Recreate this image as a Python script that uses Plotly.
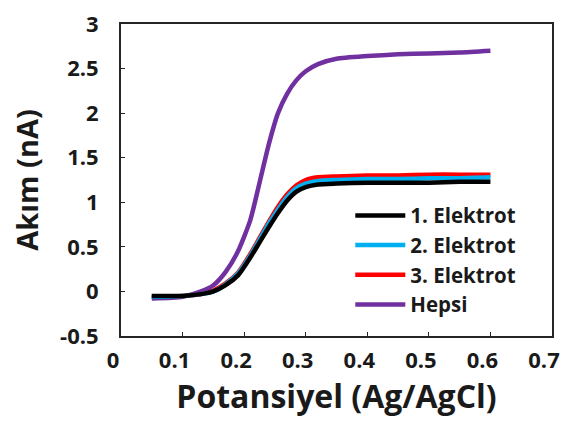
import plotly.graph_objects as go

x_vals = [0.05, 0.10, 0.13, 0.15, 0.17, 0.19, 0.21, 0.225, 0.24, 0.255, 0.27, 0.285, 0.30, 0.32, 0.35, 0.40, 0.45, 0.50, 0.55, 0.60]

elektrot1 = [-0.05, -0.05, -0.03, 0.00, 0.07, 0.18, 0.38, 0.55, 0.72, 0.88, 1.02, 1.12, 1.17, 1.20, 1.21, 1.22, 1.22, 1.22, 1.23, 1.23]
elektrot2 = [-0.06, -0.05, -0.03, 0.00, 0.08, 0.20, 0.40, 0.58, 0.76, 0.92, 1.06, 1.16, 1.21, 1.24, 1.25, 1.26, 1.26, 1.27, 1.27, 1.28]
elektrot3 = [-0.06, -0.05, -0.03, 0.01, 0.09, 0.21, 0.42, 0.60, 0.78, 0.95, 1.09, 1.19, 1.25, 1.28, 1.29, 1.30, 1.30, 1.31, 1.31, 1.31]
hepsi = [-0.08, -0.06, 0.00, 0.07, 0.22, 0.45, 0.80, 1.22, 1.65, 2.00, 2.22, 2.37, 2.47, 2.55, 2.61, 2.64, 2.66, 2.67, 2.68, 2.70]

names = ["1. Elektrot", "2. Elektrot", "3. Elektrot", "Hepsi"]
colors = ["#000000", "#00B0F0", "#FF0000", "#7030A0"]
series = [elektrot1, elektrot2, elektrot3, hepsi]

x_ticks = [0, 0.1, 0.2, 0.3, 0.4, 0.5, 0.6, 0.7]
y_ticks = [-0.5, 0, 0.5, 1, 1.5, 2, 2.5, 3]

fig = go.Figure()
# draw order: Hepsi, 3, 2, 1 (black on top); legend keeps 1,2,3,Hepsi
for i in [3, 2, 1, 0]:
    fig.add_trace(go.Scatter(
        x=x_vals, y=series[i], mode="lines", name=names[i],
        line=dict(color=colors[i], width=4.5, shape="spline", smoothing=0.6),
        legendrank=i + 1,
    ))

font_color = "#1a1a1a"
fig.update_layout(
    width=569, height=422,
    margin=dict(l=121, r=17, t=24, b=86, autoexpand=False),
    paper_bgcolor="white", plot_bgcolor="white",
    font=dict(family="Open Sans", color=font_color),
    showlegend=True,
    legend=dict(
        x=0.532, y=0.45, xanchor="left", yanchor="top",
        bgcolor="rgba(0,0,0,0)",
        font=dict(size=20.5, family="Open Sans", color=font_color, weight="bold"),
        traceorder="normal", itemwidth=50,
    ),
    xaxis=dict(
        range=[0, 0.7], tickvals=x_ticks, ticktext=[f"{v:g}" for v in x_ticks],
        showline=True, linecolor="#262626", linewidth=2, mirror=True,
        ticks="inside", ticklen=4, tickcolor="#262626",
        showgrid=False, zeroline=False, automargin=False,
        ticklabelshift=-8, ticklabelstandoff=4,
        tickfont=dict(size=22, weight="bold", color=font_color),
        title=dict(text="Potansiyel (Ag/AgCl)", font=dict(size=32, weight="bold", color=font_color), standoff=4),
    ),
    yaxis=dict(
        range=[-0.5, 3], tickvals=y_ticks, ticktext=[f"{v:g}" for v in y_ticks],
        showline=True, linecolor="#262626", linewidth=2, mirror=True,
        ticks="inside", ticklen=4, tickcolor="#262626",
        showgrid=False, zeroline=False, automargin=False,
        ticklabelstandoff=16,
        tickfont=dict(size=22, weight="bold", color=font_color),
        title=dict(text="Akım (nA)", font=dict(size=29, weight="bold", color=font_color), standoff=13),
    ),
)

fig.write_html("out.html", config={"displayModeBar": False},
               post_script="document.body.style.margin='0px';")
